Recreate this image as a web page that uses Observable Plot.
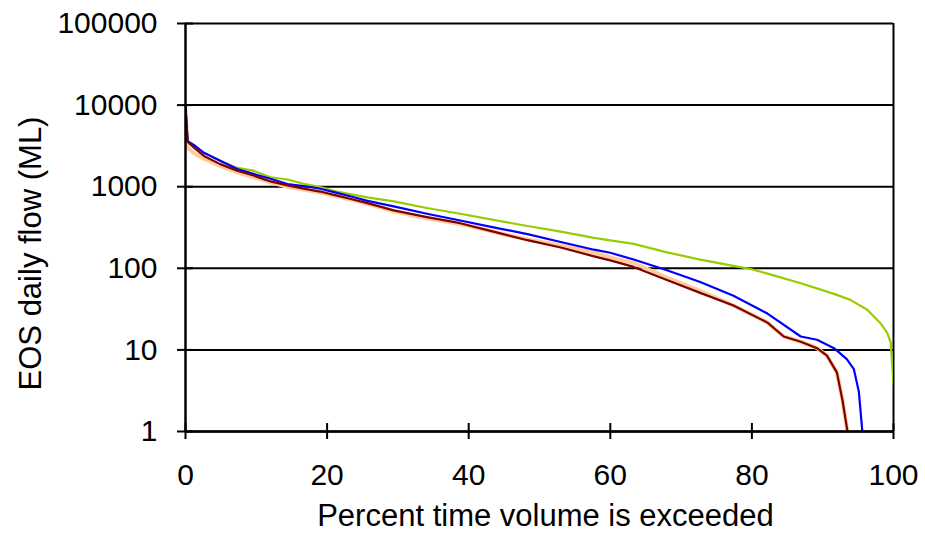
<!DOCTYPE html>
<html>
<head>
<meta charset="utf-8">
<script src="https://cdn.jsdelivr.net/npm/d3@7"></script>
<script src="https://cdn.jsdelivr.net/npm/@observablehq/plot@0.6"></script>
<style>
  body { margin: 0; background: #fff; }
</style>
</head>
<body>
<div id="chart"></div>
<script>
// Tick values
const xTicks = [0, 20, 40, 60, 80, 100];
const yTicks = [1, 10, 100, 1000, 10000, 100000];

// Series: green
const greenPct = [0, 0.3, 1.4, 2.6, 4.9, 7.3, 9.6, 12, 14.4, 16.7, 19, 21.4, 23.8, 25.7, 29.4, 34.1, 38.8, 43.5, 48.3, 53, 57.7, 60, 63.3, 68, 72.7, 77.4, 79.8, 82.2, 86.9, 91.6, 93.9, 96.3, 98.2, 99.1, 99.6, 100];
const greenFlow = [9500, 3500, 3100, 2600, 2080, 1700, 1575, 1306, 1225, 1087, 991, 872, 794, 740, 662, 548, 466, 392, 330, 281, 236, 220, 199, 157, 128, 107, 98, 86, 65.5, 48.6, 41, 31, 21, 16.3, 12.4, 3.8];

// Series: blue
const bluePct = [0, 0.3, 1.4, 2.6, 4.9, 7.3, 9.6, 12, 14.4, 16.7, 19, 21.4, 23.8, 25.7, 29.4, 34.1, 38.8, 43.5, 48.3, 53, 57.7, 60, 63.3, 68, 72.7, 77.4, 82.2, 86.9, 89.2, 91.6, 93.4, 94.4, 95.1, 95.6];
const blueFlow = [10000, 3600, 3150, 2600, 2080, 1650, 1435, 1250, 1077, 1020, 944, 841, 743, 670, 574, 466, 385, 318, 262, 210, 169, 155, 128, 94.6, 68, 46, 27.9, 14.6, 13.3, 10.5, 7.7, 5.8, 3.1, 1];

// Series: maroon
const maroonPct = [0, 0.3, 0.7, 1.4, 2.6, 4.9, 7.3, 9.6, 12, 14.4, 16.7, 19, 21.4, 23.8, 25.7, 29.4, 34.1, 38.8, 43.5, 48.3, 53, 57.7, 60, 63.3, 68, 72.7, 77.4, 82.2, 84.5, 86.9, 89.2, 90.6, 92, 92.8, 93.5];
const maroonFlow = [9000, 3600, 3300, 2900, 2380, 1890, 1570, 1370, 1160, 1040, 946, 872, 778, 692, 630, 512, 424, 357, 281, 221, 180, 140, 125, 104, 72, 50, 35, 21.6, 14.6, 12.6, 10.5, 8.5, 5.3, 2.4, 1];

// Series: peach
const peachPct = [0, 0.3, 1.4, 2.6, 4.9, 7.3, 9.6, 12, 14.4, 16.7, 19, 21.4, 23.8, 25.7, 29.4, 34.1, 38.8, 43.5, 48.3, 53, 57.7, 60, 63.3, 68, 72.7, 77.4, 82.2, 84.5, 86.9, 89.2, 90.6, 92, 92.8, 93.5];
const peachFlow = [8500, 3000, 2500, 2200, 1800, 1500, 1310, 1130, 1000, 920, 850, 765, 680, 615, 500, 410, 348, 280, 225, 190, 155, 136, 116, 77, 53, 35, 21.6, 14.6, 12.6, 10.5, 8.5, 5.3, 2.4, 1];

const toRows = (pct, flow) => pct.map((p, i) => ({pct: p, flow: flow[i]}));

const series = [
  {rows: toRows(peachPct, peachFlow), color: "#ffcc99", width: 4},
  {rows: toRows(greenPct, greenFlow), color: "#99cc00", width: 2.2},
  {rows: toRows(bluePct, blueFlow), color: "#0000ff", width: 2.2},
  {rows: toRows(maroonPct, maroonFlow), color: "#800000", width: 2.2}
];

const font = "'Liberation Sans', Arial, Helvetica, sans-serif";

const chart = Plot.plot({
  width: 925,
  height: 534,
  marginLeft: 185,
  marginRight: 32,
  marginTop: 23,
  marginBottom: 103,
  style: {fontFamily: font, background: "#fff", color: "#000"},
  x: {domain: [0, 100]},
  y: {type: "log", domain: [1, 100000]},
  marks: [
    Plot.ruleY(yTicks, {stroke: "#000", strokeWidth: 2}),
    Plot.ruleX([100], {stroke: "#000", strokeWidth: 2}),
    ...series.map(s => Plot.line(s.rows, {x: "pct", y: "flow", stroke: s.color, strokeWidth: s.width, clip: true})),
    Plot.ruleX([0], {stroke: "#000", strokeWidth: 2.5}),
    Plot.ruleY([1], {stroke: "#000", strokeWidth: 2.5}),
    Plot.axisY({ticks: yTicks, tickFormat: d3.format("d"), tickSize: 16, dx: 8, tickPadding: 20, fontSize: 30, stroke: "#000", strokeWidth: 2, label: null}),
    Plot.axisX({ticks: xTicks, tickFormat: d3.format("d"), tickSize: 16, dy: -8, tickPadding: 24, fontSize: 30, stroke: "#000", strokeWidth: 2, label: null}),
    Plot.text(["Percent time volume is exceeded"], {frameAnchor: "bottom", textAnchor: "middle", dx: 6, dy: 85, lineAnchor: "middle", fontSize: 31, fill: "#000"}),
    Plot.text(["EOS daily flow (ML)"], {frameAnchor: "left", textAnchor: "middle", rotate: -90, dx: -154, dy: 26, lineAnchor: "middle", fontSize: 31, fill: "#000"})
  ]
});

document.getElementById("chart").appendChild(chart);
</script>
</body>
</html>
